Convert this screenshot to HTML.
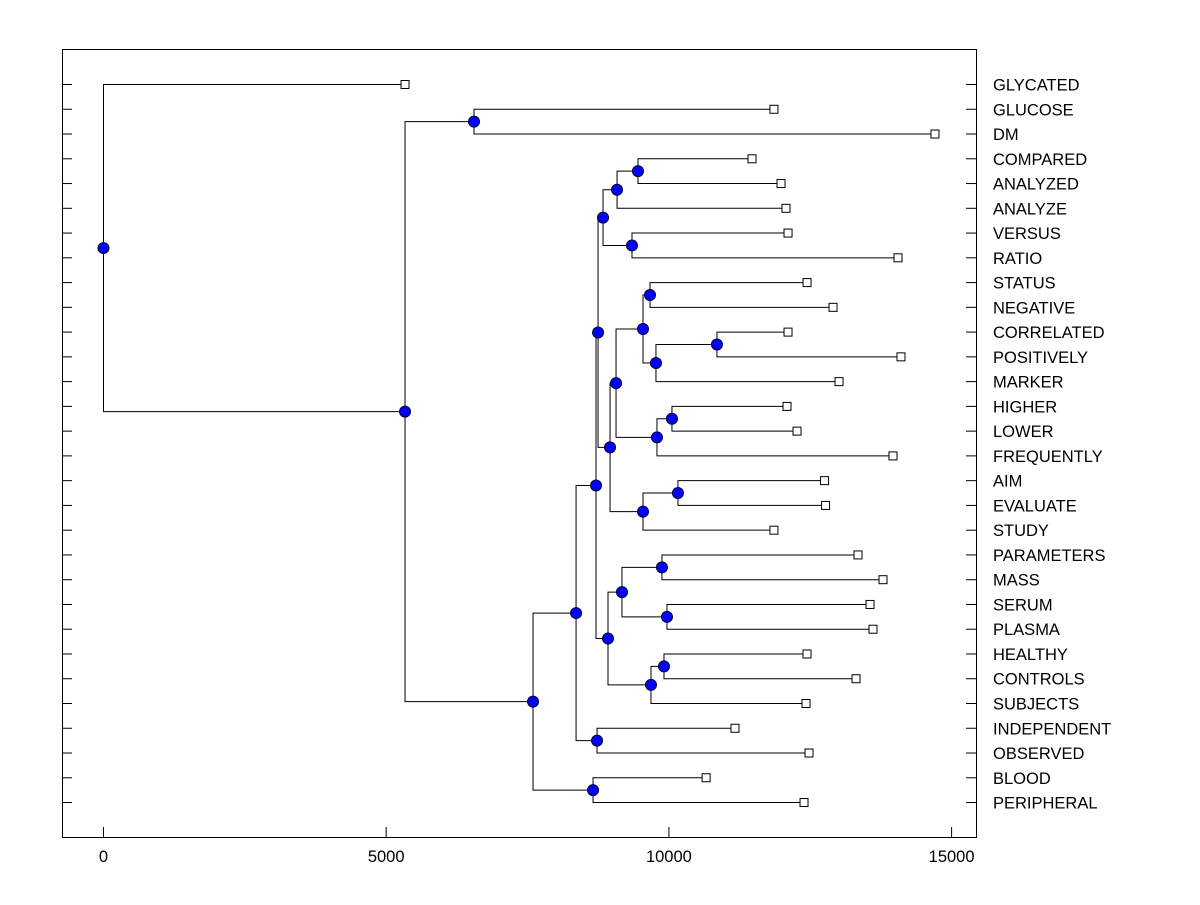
<!DOCTYPE html>
<html><head><meta charset="utf-8"><style>
body{margin:0;background:#fff}
svg text{font-family:"Liberation Sans",sans-serif;font-size:16.5px;fill:#000}
</style></head><body>
<svg id="chart" width="1200" height="900" xmlns="http://www.w3.org/2000/svg">
<rect x="62.5" y="49.5" width="914" height="788" fill="none" stroke="#000"/>
<g id="g"></g>
</svg>
<script>
const labels=["GLYCATED","GLUCOSE","DM","COMPARED","ANALYZED","ANALYZE","VERSUS","RATIO","STATUS","NEGATIVE","CORRELATED","POSITIVELY","MARKER","HIGHER","LOWER","FREQUENTLY","AIM","EVALUATE","STUDY","PARAMETERS","MASS","SERUM","PLASMA","HEALTHY","CONTROLS","SUBJECTS","INDEPENDENT","OBSERVED","BLOOD","PERIPHERAL"];
const leafHeights=[5333,11858,14706,11470,11983,12071,12107,14052,12443,12903,12107,14105,13009,12089,12266,13963,12753,12771,11858,13345,13787,13557,13610,12443,13310,12425,11169,12478,10658,12390];
const mergeLeft=[1,3,31,6,32,8,10,36,35,13,39,38,16,42,41,34,19,21,46,23,49,48,45,26,52,28,54,30,0];
const mergeRight=[2,4,5,7,33,9,11,12,37,14,15,40,17,18,43,44,20,22,47,24,25,50,51,27,53,29,55,56,57];
const mergeHeights=[6553,9453,9083,9347,8835,9666,10850,9771,9542,10054,9789,9065,10160,9542,8959,8747,9877,9966,9170,9913,9683,8923,8711,8729,8358,8658,7597,5333,0];
const xTicks=[0,5000,10000,15000];

const X=v=>103.5+v*0.05654;
const Y=i=>84.5+i*24.76;
const g=document.getElementById('g');
const NS='http://www.w3.org/2000/svg';
function mk(t,a){const e=document.createElementNS(NS,t);for(const k in a)e.setAttribute(k,a[k]);g.appendChild(e);return e;}
const n=labels.length;
const nx=[],ny=[];
for(let i=0;i<n;i++){nx.push(X(leafHeights[i]));ny.push(Y(i));}
const nodes=[];
for(let k=0;k<mergeLeft.length;k++){
  const a=mergeLeft[k],b=mergeRight[k],x=X(mergeHeights[k]);
  const y=(ny[a]+ny[b])/2;nx.push(x);ny.push(y);
  let e=mk('path',{d:`M${nx[a]},${ny[a]}H${x}V${ny[b]}H${nx[b]}`,fill:'none',stroke:'#000','stroke-width':1});
  
  
  nodes.push([x,y]);
}
for(let i=0;i<n;i++){
  let t=mk('line',{x1:62,x2:72,y1:Y(i),y2:Y(i),stroke:'#000'});
  
  
  t=mk('line',{x1:966,x2:976,y1:Y(i),y2:Y(i),stroke:'#000'});
  
  
  let s=mk('rect',{x:nx[i]-4,y:Y(i)-4,width:8,height:8,fill:'#fff',stroke:'#000'});
  
  
  let l=mk('text',{x:993,y:Y(i)+6});l.textContent=labels[i];
  
  
}
for(const [x,y] of nodes){
  let c=mk('circle',{cx:x,cy:y,r:5.5,fill:'#0000ff',stroke:'#000033','stroke-width':1});
  
  
}
for(const v of xTicks){
  let t=mk('line',{x1:X(v),x2:X(v),y1:827,y2:837,stroke:'#000'});
  
  
  let l=mk('text',{x:X(v),y:862,'text-anchor':'middle','font-size':14});l.textContent=v;
  
  
}
</script>
</body></html>
